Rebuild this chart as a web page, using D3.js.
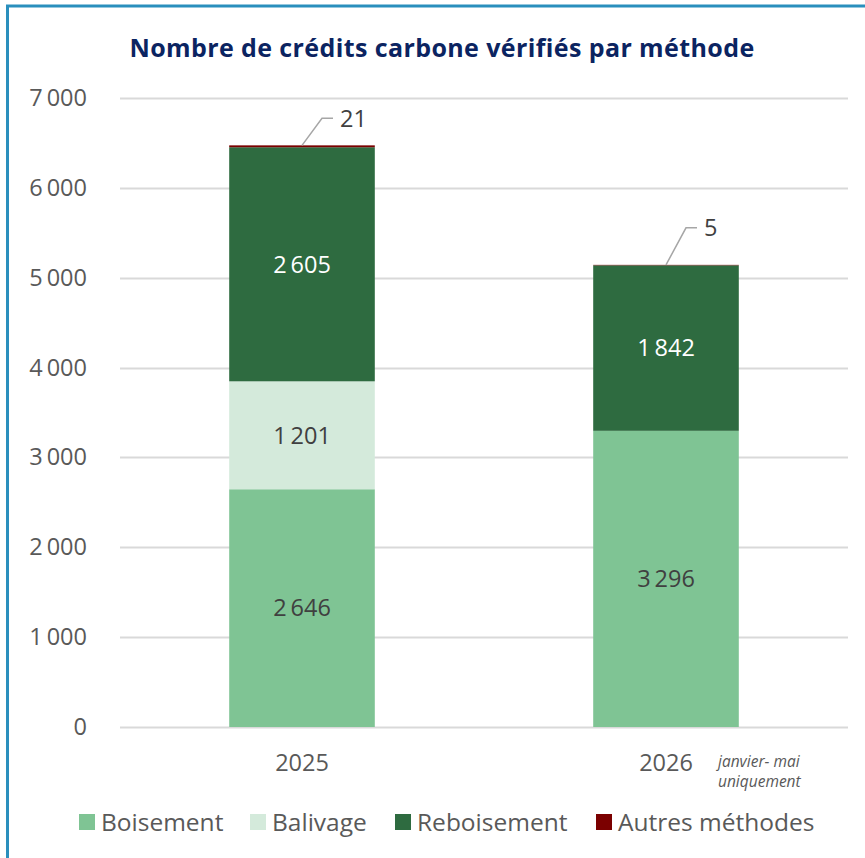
<!DOCTYPE html>
<html>
<head>
<meta charset="utf-8">
<script src="https://cdn.jsdelivr.net/npm/d3@7"></script>
<style>
  html, body { margin: 0; padding: 0; background: #fff; }
  svg text { font-family: "Open Sans", "DejaVu Sans", sans-serif; }
</style>
</head>
<body>
<div id="chart"></div>
<script>
// data
const years = ['2025', '2026'];
const methods = ['Boisement', 'Balivage', 'Reboisement', 'Autres méthodes'];
const boisement = [2646, 3296];
const balivage = [1201, 0];
const reboisement = [2605, 1842];
const autres = [21, 5];
const yTicks = [0, 1000, 2000, 3000, 4000, 5000, 6000, 7000];

const colors = ['#7fc494', '#d4eadb', '#2e6b40', '#7b0000'];
const labelColors = ['#404040', '#404040', '#ffffff', '#404040'];

const width = 865, height = 858;
const margin = { top: 98, right: 17, bottom: 131, left: 120 };

const fr = d3.formatLocale({ decimal: ',', thousands: '\u2009', grouping: [3], currency: ['', ' €'] });
const fmt = fr.format(',d');

const rows = years.map((y, i) => ({
  year: y,
  Boisement: boisement[i],
  Balivage: balivage[i],
  Reboisement: reboisement[i],
  'Autres méthodes': autres[i]
}));

const svg = d3.select('#chart').append('svg')
  .attr('width', width)
  .attr('height', height);

// frame
svg.append('path')
  .attr('d', `M7.5,${height} L7.5,6 L${width},6`)
  .attr('fill', 'none')
  .attr('stroke', '#2a8fbd')
  .attr('stroke-width', 3);

svg.append('text')
  .attr('x', 442)
  .attr('y', 57)
  .attr('text-anchor', 'middle')
  .style('font-size', '25px')
  .style('font-weight', 700)
  .style('letter-spacing', '0.4px')
  .attr('fill', '#0b2461')
  .text('Nombre de crédits carbone vérifiés par méthode');

const x = d3.scaleBand()
  .domain(years)
  .range([margin.left, width - margin.right])
  .paddingInner(0.6)
  .paddingOuter(0.3);

const y = d3.scaleLinear()
  .domain([0, 7000])
  .range([height - margin.bottom, margin.top]);

// grid
svg.append('g')
  .selectAll('line')
  .data(yTicks)
  .join('line')
  .attr('x1', margin.left)
  .attr('x2', width - margin.right)
  .attr('y1', d => Math.round(y(d)) + 0.5)
  .attr('y2', d => Math.round(y(d)) + 0.5)
  .attr('stroke', '#d9d9d9')
  .attr('stroke-width', 2);

// y axis labels
const yAxis = svg.append('g')
  .attr('transform', `translate(${margin.left}, 0)`)
  .call(d3.axisLeft(y).tickValues(yTicks).tickFormat(fmt).tickSize(0).tickPadding(33));
yAxis.select('.domain').remove();
yAxis.selectAll('text')
  .style('font-size', '23.5px')
  .attr('fill', '#595959');

// stacked bars
const series = d3.stack().keys(methods)(rows);

const layer = svg.append('g')
  .selectAll('g')
  .data(series)
  .join('g')
  .attr('fill', (d, i) => colors[i]);

layer.selectAll('rect')
  .data(d => d)
  .join('rect')
  .attr('x', d => x(d.data.year))
  .attr('width', x.bandwidth())
  .attr('y', d => y(d[1]))
  .attr('height', d => y(d[0]) - y(d[1]));

// value labels inside segments
series.forEach((s, i) => {
  if (i === 3) return;
  svg.append('g')
    .selectAll('text')
    .data(s.filter(d => d[1] - d[0] > 0))
    .join('text')
    .attr('x', d => x(d.data.year) + x.bandwidth() / 2)
    .attr('y', d => y((d[0] + d[1]) / 2))
    .attr('dy', '0.35em')
    .attr('text-anchor', 'middle')
    .style('font-size', '23.5px')
    .attr('fill', labelColors[i])
    .text(d => fmt(d[1] - d[0]));
});

// callouts for "Autres méthodes"
const topSeries = series[3];
const callout = svg.append('g');
const rise = [27, 37];
topSeries.forEach((d, i) => {
  const cx = x(d.data.year) + x.bandwidth() / 2;
  const cy = y(d[1]);
  callout.append('path')
    .attr('d', `M${cx},${cy} L${cx + 20},${cy - rise[i]} L${cx + 31},${cy - rise[i]}`)
    .attr('fill', 'none')
    .attr('stroke', '#a6a6a6')
    .attr('stroke-width', 1.5);
  callout.append('text')
    .attr('x', cx + 38)
    .attr('y', cy - rise[i])
    .attr('dy', '0.35em')
    .style('font-size', '23.5px')
    .attr('fill', '#404040')
    .text(fmt(d[1] - d[0]));
});

// x axis labels
const xAxis = svg.append('g')
  .attr('transform', `translate(0, ${height - margin.bottom})`)
  .call(d3.axisBottom(x).tickSize(0).tickPadding(27));
xAxis.select('.domain').remove();
xAxis.selectAll('text')
  .style('font-size', '23.5px')
  .attr('fill', '#595959');

svg.append('text')
  .attr('x', 718)
  .attr('y', 767)
  .style('font-size', '15.5px')
  .style('font-style', 'italic')
  .attr('fill', '#595959')
  .selectAll('tspan')
  .data(['janvier- mai', 'uniquement'])
  .join('tspan')
  .attr('x', 718)
  .attr('dy', (d, i) => i ? 20 : 0)
  .text(d => d);

// legend
const legendX = [79, 250, 395, 596];
const legend = svg.append('g')
  .selectAll('g')
  .data(methods)
  .join('g')
  .attr('transform', (d, i) => `translate(${legendX[i]}, 822)`);
legend.append('rect')
  .attr('y', -8)
  .attr('width', 16)
  .attr('height', 16)
  .attr('fill', (d, i) => colors[i]);
legend.append('text')
  .attr('x', 22)
  .attr('dy', '0.35em')
  .style('font-size', '24.5px')
  .attr('fill', '#595959')
  .text(d => d);
</script>
</body>
</html>
